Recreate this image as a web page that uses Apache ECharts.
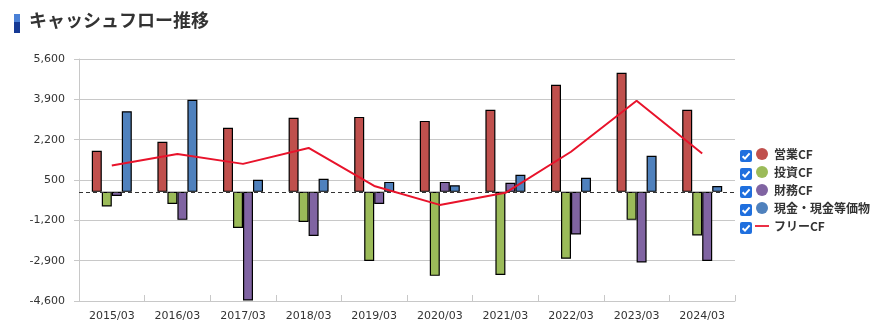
<!DOCTYPE html>
<html><head><meta charset="utf-8">
<script src="https://cdn.jsdelivr.net/npm/echarts@6/dist/echarts.min.js"></script>
<style>html,body{margin:0;padding:0;background:#fff}#c{width:887px;height:332px}</style>
</head><body><div id="c"></div>
<script>
const categories = ['2015/03','2016/03','2017/03','2018/03','2019/03','2020/03','2021/03','2022/03','2023/03','2024/03'];
const operatingCF = [1730, 2110, 2700, 3120, 3160, 2990, 3460, 4510, 5020, 3460];
const investingCF = [-620, -510, -1520, -1270, -2910, -3540, -3500, -2820, -1180, -1840];
const financingCF = [-170, -1180, -4580, -1860, -510, 420, 380, -1800, -2980, -2910];
const cashCF = [3400, 3880, 510, 550, 420, 280, 720, 590, 1520, 250];
const freeCF = [1110, 1600, 1180, 1850, 250, -550, -40, 1690, 3840, 1620];
const yTickLabels = ['-4,600','-2,900','-1,200','500','2,200','3,900','5,600'];
const seriesNames = ['営業CF','投資CF','財務CF','現金・現金等価物','フリーCF'];

const chart = echarts.init(document.getElementById('c'));
const colors = ['#C0504D','#9BBB59','#8064A2','#4F81BD','#E8132B'];
const FONT = 'DejaVu Sans';
const JP = 'Noto Sans CJK JP';

const checkboxes = [];
for (let i = 0; i < 5; i++) {
  checkboxes.push({
    type: 'group', left: 740, top: 150 + 18 * i,
    children: [
      {type: 'rect', shape: {x: 0, y: 0, width: 12, height: 12, r: 2}, style: {fill: '#1f6fde'}},
      {type: 'polyline', shape: {points: [[2.6, 6.2], [5, 8.6], [9.6, 3.4]]}, style: {stroke: '#fff', lineWidth: 2, fill: null}}
    ]
  });
}

function barSeries(idx, data) {
  return {
    name: seriesNames[idx], type: 'bar', data: data, barWidth: 10, barGap: '0%',
    yAxisIndex: 0,
    itemStyle: {color: colors[idx], borderColor: '#000', borderWidth: 1.2},
    emphasis: {disabled: true}
  };
}

chart.setOption({
  animation: false,
  textStyle: {fontFamily: FONT},
  graphic: [
    {type: 'rect', shape: {x: 14, y: 14, width: 6, height: 8}, style: {fill: '#4a80d6'}},
    {type: 'rect', shape: {x: 14, y: 22, width: 6, height: 11}, style: {fill: '#163a95'}},
    {type: 'text', left: 29, top: 11, style: {text: 'キャッシュフロー推移', font: 'bold 18px "Noto Sans CJK JP"', fill: '#333'}}
  ].concat(checkboxes),
  legend: {
    orient: 'vertical', left: 755, top: 148, padding: 0, itemWidth: 14, itemHeight: 12, itemGap: 6,
    selectedMode: false,
    itemStyle: {borderWidth: 0},
    textStyle: {fontFamily: JP, fontWeight: 'bold', fontSize: 12, lineHeight: 12, height: 12, color: '#333'},
    data: [
      {name: seriesNames[0], icon: 'circle'},
      {name: seriesNames[1], icon: 'circle'},
      {name: seriesNames[2], icon: 'circle'},
      {name: seriesNames[3], icon: 'circle'},
      {name: seriesNames[4], icon: 'path://M0,0 H16 V2 H0 Z', itemStyle: {color: colors[4], borderWidth: 0}}
    ]
  },
  grid: {left: 79, right: 152, top: 59, bottom: 31},
  xAxis: {
    type: 'category', data: categories, boundaryGap: true,
    axisLine: {onZero: false, lineStyle: {color: '#c8c8c8'}},
    axisTick: {show: true, inside: true, length: 6, lineStyle: {color: '#c8c8c8'}},
    axisLabel: {color: '#333', fontSize: 11, fontFamily: FONT, margin: 10}
  },
  yAxis: [
    {type: 'value', min: -4600, max: 5600, show: false, splitLine: {show: false}},
    {type: 'value', min: 0, max: 10200, interval: 1700, position: 'left',
     axisLine: {show: true, lineStyle: {color: '#c8c8c8'}},
     axisTick: {show: true, length: 5, lineStyle: {color: '#c8c8c8'}},
     splitLine: {lineStyle: {color: '#c8c8c8'}},
     axisLabel: {color: '#333', fontSize: 11, fontFamily: FONT, margin: 14,
       formatter: function (v) { return yTickLabels[Math.round(v / 1700)]; }}}
  ],
  series: [
    barSeries(0, operatingCF),
    barSeries(1, investingCF),
    barSeries(2, financingCF),
    Object.assign(barSeries(3, cashCF), {
      markLine: {silent: true, symbol: 'none', label: {show: false},
        lineStyle: {color: '#333', type: [4, 3], width: 1},
        data: [{yAxis: 0}]}
    }),
    {name: seriesNames[4], type: 'line', data: freeCF, yAxisIndex: 0,
     symbol: 'none', showSymbol: false,
     lineStyle: {color: colors[4], width: 2}, itemStyle: {color: colors[4]},
     emphasis: {disabled: true}, z: 5}
  ]
});
</script></body></html>
